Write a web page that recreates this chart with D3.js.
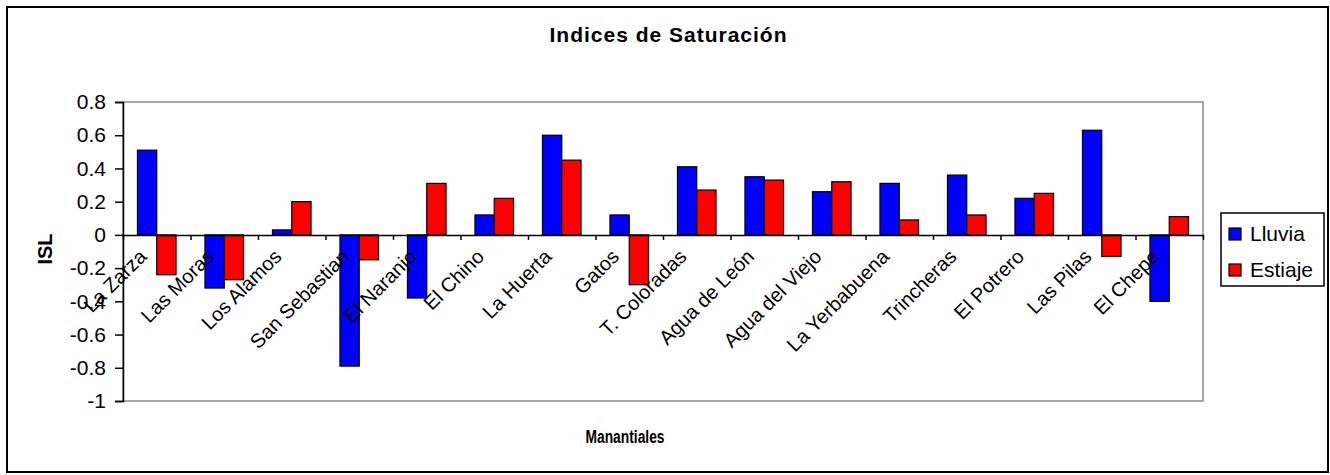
<!DOCTYPE html>
<html>
<head>
<meta charset="utf-8">
<script src="https://cdn.jsdelivr.net/npm/d3@7"></script>
<style>
  body { margin: 0; background: #fff; }
  svg { display: block; font-family: 'Liberation Sans', Arial, sans-serif; }
  .axis path, .axis line { stroke: #000; stroke-width: 1.5px; }
  .axis text { font-size: 21px; fill: #000; }
</style>
</head>
<body>
<svg></svg>
<script>
var categories = ['La Zarza', 'Las Moras', 'Los Alamos', 'San Sebastian', 'El Naranjo',
  'El Chino', 'La Huerta', 'Gatos', 'T. Coloradas', 'Agua de León', 'Agua del Viejo',
  'La Yerbabuena', 'Trincheras', 'El Potrero', 'Las Pilas', 'El Chepe'];
var seriesNames = ['Lluvia', 'Estiaje'];
var lluvia = [0.51, -0.32, 0.03, -0.79, -0.38, 0.12, 0.60, 0.12, 0.41, 0.35, 0.26, 0.31, 0.36, 0.22, 0.63, -0.40];
var estiaje = [-0.24, -0.27, 0.20, -0.15, 0.31, 0.22, 0.45, -0.30, 0.27, 0.33, 0.32, 0.09, 0.12, 0.25, -0.13, 0.11];
var yTicks = [-1, -0.8, -0.6, -0.4, -0.2, 0, 0.2, 0.4, 0.6, 0.8];
var colors = ['#0000ff', '#ff0000'];

var width = 1330;
var height = 475;
var plot = { left: 123, right: 1203, top: 102, bottom: 401 };

var svg = d3.select('svg')
  .attr('width', width)
  .attr('height', height);

// outer chart border
svg.append('rect')
  .attr('x', 7)
  .attr('y', 7)
  .attr('width', 1321)
  .attr('height', 465)
  .attr('fill', '#fff')
  .attr('stroke', '#000')
  .attr('stroke-width', 2);

var scaleX = d3.scaleBand()
  .domain(categories)
  .range([plot.left, plot.right]);
var scaleSeries = d3.scaleBand()
  .domain(seriesNames)
  .range([0, scaleX.bandwidth()])
  .paddingOuter(0.75);
var scaleY = d3.scaleLinear()
  .domain([-1, 0.8])
  .range([plot.bottom, plot.top]);

// plot frame (grey)
svg.append('rect')
  .attr('x', plot.left)
  .attr('y', plot.top)
  .attr('width', plot.right - plot.left)
  .attr('height', plot.bottom - plot.top)
  .attr('fill', 'none')
  .attr('stroke', '#8c8c8c')
  .attr('stroke-width', 1.5);

var rows = categories.map(function(c, i) {
  return { name: c, values: [lluvia[i], estiaje[i]] };
});

var groups = svg.selectAll('.group')
  .data(rows)
  .enter().append('g')
  .attr('class', 'group')
  .attr('transform', function(d) {
    return 'translate(' + scaleX(d.name) + ',0)';
  });

groups.selectAll('rect')
  .data(function(d) {
    return d.values.map(function(v, i) {
      return { series: seriesNames[i], value: v, color: colors[i] };
    });
  })
  .enter().append('rect')
  .attr('x', function(d) { return scaleSeries(d.series); })
  .attr('y', function(d) { return scaleY(Math.max(0, d.value)); })
  .attr('width', scaleSeries.bandwidth())
  .attr('height', function(d) { return Math.abs(scaleY(d.value) - scaleY(0)); })
  .attr('fill', function(d) { return d.color; })
  .attr('stroke', '#000')
  .attr('stroke-width', 1.2);

// y axis
svg.append('g')
  .attr('class', 'axis y-axis')
  .attr('transform', 'translate(' + plot.left + ',0)')
  .call(d3.axisLeft(scaleY)
    .tickValues(yTicks)
    .tickSize(8)
    .tickPadding(9)
    .tickFormat(function(d) { return String(+d.toFixed(1)); }));

// x axis at zero, ticks on category boundaries
var scaleIdx = d3.scaleLinear()
  .domain([0, categories.length])
  .range([plot.left, plot.right]);
svg.append('g')
  .attr('class', 'axis x-axis')
  .attr('transform', 'translate(0,' + scaleY(0) + ')')
  .call(d3.axisBottom(scaleIdx)
    .tickValues(d3.range(categories.length + 1))
    .tickSize(5)
    .tickSizeOuter(0)
    .tickFormat(''));

svg.selectAll('.cat-label')
  .data(categories)
  .enter().append('text')
  .attr('class', 'cat-label')
  .attr('transform', function(d) {
    return 'translate(' + (scaleX(d) + scaleX.bandwidth() / 2 - 9) + ',' + (scaleY(0) + 23) + ') rotate(-45)';
  })
  .attr('text-anchor', 'end')
  .style('font-size', '20px')
  .text(function(d) { return d; });

// titles
svg.append('text')
  .attr('x', 668)
  .attr('y', 42)
  .attr('text-anchor', 'middle')
  .attr('textLength', 237)
  .style('font-size', '21px')
  .style('font-weight', 'bold')
  .text('Indices de Saturación');

svg.append('text')
  .attr('x', 625)
  .attr('y', 443)
  .attr('text-anchor', 'middle')
  .attr('textLength', 79)
  .attr('lengthAdjust', 'spacingAndGlyphs')
  .style('font-size', '18px')
  .style('font-weight', 'bold')
  .text('Manantiales');

svg.append('text')
  .attr('transform', 'translate(52,249) rotate(-90)')
  .attr('text-anchor', 'middle')
  .style('font-size', '20px')
  .style('font-weight', 'bold')
  .text('ISL');

// legend
var legend = svg.append('g')
  .attr('transform', 'translate(1221,213)');
legend.append('rect')
  .attr('width', 103)
  .attr('height', 73)
  .attr('fill', '#fff')
  .attr('stroke', '#000')
  .attr('stroke-width', 1.5);
var items = legend.selectAll('.item')
  .data(seriesNames)
  .enter().append('g')
  .attr('class', 'item')
  .attr('transform', function(d, i) {
    return 'translate(8,' + (15 + i * 36) + ')';
  });
items.append('rect')
  .attr('width', 12)
  .attr('height', 12)
  .attr('fill', function(d, i) { return colors[i]; })
  .attr('stroke', '#000')
  .attr('stroke-width', 1.2);
items.append('text')
  .attr('x', 21)
  .attr('y', 13)
  .style('font-size', '21px')
  .text(function(d) { return d; });
</script>
</body>
</html>
